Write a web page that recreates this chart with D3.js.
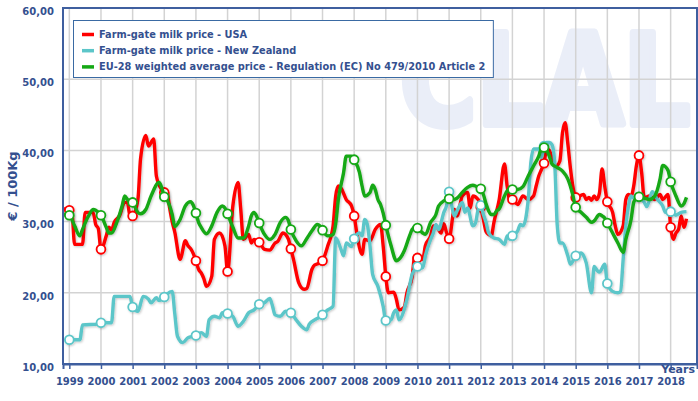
<!DOCTYPE html>
<html>
<head>
<meta charset="utf-8">
<script src="https://cdn.jsdelivr.net/npm/d3@7"></script>
<style>
  body { margin: 0; background: #fff; }
  text { font-family: "DejaVu Sans", Verdana, sans-serif; font-weight: bold; }
</style>
</head>
<body>
<div id="graphic"></div>
<script>
// farm-gate milk prices, €/100Kg, monthly readings

var years = [1999, 2000, 2001, 2002, 2003, 2004, 2005, 2006, 2007, 2008, 2009,
    2010, 2011, 2012, 2013, 2014, 2015, 2016, 2017, 2018];
var yTicks = [10, 20, 30, 40, 50, 60];

var seriesNames = [
    "Farm-gate milk price - USA",
    "Farm-gate milk price - New Zealand",
    "EU-28 weighted average price - Regulation (EC) No 479/2010 Article 2"
];

var usaDates = ["1998-11", "1999-01", "1999-02", "1999-03", "1999-06", "1999-07", "1999-10", "1999-11", "1999-12",
    "2000-01", "2000-03", "2000-04", "2000-05", "2000-06", "2000-08", "2000-10", "2000-11", "2000-12",
    "2001-01", "2001-03", "2001-04", "2001-06", "2001-07", "2001-09", "2001-10", "2001-12",
    "2002-01", "2002-02", "2002-03", "2002-04", "2002-05", "2002-07", "2002-09", "2002-10", "2002-11", "2002-12",
    "2003-01", "2003-02", "2003-03", "2003-04", "2003-05", "2003-07", "2003-08", "2003-10", "2003-12",
    "2004-01", "2004-03", "2004-05", "2004-06", "2004-07", "2004-09", "2004-10", "2004-11", "2004-12",
    "2005-01", "2005-03", "2005-05", "2005-07", "2005-08", "2005-10", "2005-12",
    "2006-01", "2006-02", "2006-04", "2006-06", "2006-07", "2006-09", "2006-10", "2006-12",
    "2007-01", "2007-03", "2007-05", "2007-06", "2007-07", "2007-08", "2007-10", "2007-12",
    "2008-01", "2008-02", "2008-04", "2008-05", "2008-07", "2008-09", "2008-11", "2008-12",
    "2009-01", "2009-02", "2009-04", "2009-05", "2009-06", "2009-08", "2009-09", "2009-11", "2009-12",
    "2010-01", "2010-03", "2010-04", "2010-06", "2010-07", "2010-08", "2010-10", "2010-11", "2010-12",
    "2011-01", "2011-03", "2011-04", "2011-06", "2011-08", "2011-09", "2011-10", "2011-12",
    "2012-01", "2012-02", "2012-03", "2012-04", "2012-05", "2012-06", "2012-08", "2012-10", "2012-11", "2012-12",
    "2013-01", "2013-03", "2013-05", "2013-07", "2013-09", "2013-10", "2013-11", "2013-12",
    "2014-01", "2014-02", "2014-03", "2014-04", "2014-05", "2014-06", "2014-07", "2014-08", "2014-09", "2014-10", "2014-11", "2014-12",
    "2015-01", "2015-04", "2015-05", "2015-06", "2015-07", "2015-08", "2015-09", "2015-10", "2015-11", "2015-12",
    "2016-01", "2016-03", "2016-04", "2016-05", "2016-07", "2016-08", "2016-09", "2016-10", "2016-11", "2016-12",
    "2017-01", "2017-02", "2017-03", "2017-05", "2017-07", "2017-09", "2017-10", "2017-12",
    "2018-01", "2018-02", "2018-03", "2018-04", "2018-05", "2018-06", "2018-07"];
var usaValues = [31.8, 31.6, 31.3, 26.8, 26.8, 31.3, 31.3, 29.6, 29.0,
    26.1, 28.0, 29.2, 28.8, 29.9, 30.8, 32.7, 32.7, 30.8,
    30.8, 33.1, 38.8, 42.1, 40.6, 41.6, 36.4, 34.5,
    34.1, 34.3, 32.0, 30.0, 28.5, 24.7, 27.3, 26.6, 26.2, 25.5,
    24.5, 23.3, 22.8, 22.0, 20.9, 22.3, 27.5, 28.4, 26.6,
    23.0, 32.2, 35.5, 31.7, 27.5, 28.2, 27.0, 27.5, 27.3,
    27.1, 26.1, 26.0, 27.0, 27.2, 28.4, 27.6,
    26.2, 24.7, 21.4, 20.5, 20.6, 23.3, 23.9, 24.2,
    24.5, 26.6, 29.4, 33.6, 35.0, 34.7, 33.1, 32.2,
    30.8, 28.4, 25.4, 27.5, 27.3, 28.9, 29.6, 26.6,
    22.3, 20.0, 20.1, 19.1, 17.6, 18.0, 20.0, 22.3, 25.2,
    24.9, 24.7, 26.6, 28.0, 29.4, 29.4, 28.4, 29.7, 28.5,
    27.6, 31.7, 30.8, 33.6, 34.1, 31.9, 33.6, 33.1,
    32.0, 30.3, 28.6, 28.2, 28.0, 29.9, 33.1, 38.1, 35.0, 33.1,
    33.1, 32.4, 33.6, 33.1, 33.6, 35.0, 36.4, 37.3,
    38.2, 40.2, 40.0, 39.0, 37.8, 37.9, 38.5, 42.5, 43.9, 41.0, 37.5, 34.8,
    33.4, 33.8, 33.1, 33.4, 33.0, 33.6, 33.1, 34.0, 37.4, 35.0,
    32.8, 31.3, 29.4, 28.2, 29.4, 33.1, 33.8, 33.6, 35.0, 37.8,
    39.3, 36.9, 33.3, 33.6, 33.1, 33.8, 33.1, 33.8,
    29.2, 27.5, 28.4, 28.9, 30.8, 29.2, 30.4];

var nzDates = ["1998-12", "1999-01", "1999-05", "1999-06", "1999-12",
    "2000-01", "2000-05", "2000-06", "2000-12",
    "2001-01", "2001-03", "2001-05", "2001-07", "2001-08", "2001-10", "2001-11", "2001-12",
    "2002-01", "2002-02", "2002-04", "2002-05", "2002-06", "2002-08", "2002-10", "2002-12",
    "2003-01", "2003-03", "2003-05", "2003-06", "2003-08", "2003-10", "2003-11", "2003-12",
    "2004-01", "2004-03", "2004-05", "2004-07", "2004-09", "2004-11", "2004-12",
    "2005-01", "2005-03", "2005-05", "2005-06", "2005-07", "2005-09", "2005-11", "2005-12",
    "2006-01", "2006-03", "2006-05", "2006-07", "2006-08", "2006-10", "2006-12",
    "2007-01", "2007-03", "2007-05", "2007-06", "2007-08", "2007-09", "2007-10", "2007-12",
    "2008-01", "2008-03", "2008-04", "2008-05", "2008-06", "2008-07", "2008-08", "2008-10", "2008-12",
    "2009-01", "2009-03", "2009-04", "2009-05", "2009-06", "2009-09", "2009-11", "2009-12",
    "2010-01", "2010-03", "2010-04", "2010-06", "2010-07", "2010-08", "2010-09", "2010-11", "2010-12",
    "2011-01", "2011-02", "2011-03", "2011-04", "2011-06", "2011-07", "2011-08", "2011-10", "2011-11", "2011-12",
    "2012-01", "2012-02", "2012-03", "2012-04", "2012-06", "2012-08", "2012-10", "2012-11", "2012-12",
    "2013-01", "2013-03", "2013-04", "2013-05", "2013-07", "2013-08", "2013-09", "2013-11", "2013-12",
    "2014-01", "2014-02", "2014-03", "2014-04", "2014-05", "2014-06", "2014-07", "2014-08", "2014-10", "2014-11", "2014-12",
    "2015-01", "2015-03", "2015-04", "2015-05", "2015-07", "2015-08", "2015-09", "2015-10", "2015-12",
    "2016-01", "2016-03", "2016-05", "2016-06", "2016-07", "2016-08", "2016-09", "2016-10", "2016-11", "2016-12",
    "2017-01", "2017-03", "2017-04", "2017-06", "2017-08", "2017-10", "2017-11", "2017-12",
    "2018-01", "2018-03", "2018-05", "2018-07"];
var nzValues = [13.4, 13.4, 13.4, 15.5, 15.6,
    15.8, 15.8, 19.5, 19.5,
    18.0, 17.4, 19.5, 19.1, 18.6, 19.3, 18.9, 19.1,
    19.4, 19.8, 20.2, 17.0, 13.9, 13.0, 13.7, 13.9,
    14.0, 14.4, 13.9, 16.2, 16.7, 16.5, 17.2, 17.0,
    17.1, 16.7, 15.3, 16.0, 17.2, 17.6, 18.0,
    18.4, 18.6, 19.2, 18.2, 16.9, 16.7, 17.4, 17.3,
    17.2, 16.2, 15.3, 14.8, 15.6, 16.2, 16.6,
    16.9, 17.6, 18.1, 27.7, 26.1, 25.2, 27.0, 26.5,
    27.6, 28.4, 28.0, 30.3, 29.6, 26.6, 22.6, 20.9, 18.1,
    16.1, 16.2, 17.2, 17.6, 16.2, 19.1, 22.6, 23.3,
    23.7, 23.5, 25.2, 27.5, 28.4, 29.6, 28.9, 31.3, 32.2,
    34.2, 32.2, 30.8, 31.5, 32.7, 31.3, 31.9, 29.4, 29.8, 31.7,
    32.3, 31.0, 29.9, 28.4, 27.7, 27.5, 26.8, 28.0, 27.5,
    28.0, 28.7, 29.6, 29.4, 33.1, 38.3, 40.2, 40.2, 39.0,
    40.6, 41.1, 41.1, 40.8, 38.5, 29.5, 27.0, 27.0, 25.2, 24.0, 24.5,
    25.2, 25.6, 25.2, 24.2, 20.0, 23.7, 23.2, 22.9, 24.0,
    21.3, 20.2, 20.0, 20.2, 24.7, 29.4, 32.2, 33.6, 33.3, 33.5,
    33.5, 32.7, 32.1, 34.2, 33.1, 32.2, 31.3, 31.5,
    31.4, 30.9, 31.3, 31.4];

var euDates = ["1998-11", "1999-01", "1999-03", "1999-05", "1999-06", "1999-08", "1999-10", "1999-11", "1999-12",
    "2000-01", "2000-03", "2000-04", "2000-05", "2000-07", "2000-09", "2000-10", "2000-11",
    "2001-01", "2001-03", "2001-04", "2001-06", "2001-08", "2001-11", "2001-12",
    "2002-01", "2002-02", "2002-04", "2002-05", "2002-07", "2002-09", "2002-11", "2002-12",
    "2003-01", "2003-02", "2003-03", "2003-05", "2003-07", "2003-09", "2003-11", "2003-12",
    "2004-01", "2004-03", "2004-05", "2004-07", "2004-09", "2004-10", "2004-11", "2004-12",
    "2005-01", "2005-03", "2005-05", "2005-07", "2005-09", "2005-11", "2005-12",
    "2006-01", "2006-03", "2006-05", "2006-07", "2006-09", "2006-11", "2006-12",
    "2007-01", "2007-03", "2007-05", "2007-06", "2007-07", "2007-09", "2007-10", "2007-12",
    "2008-01", "2008-03", "2008-04", "2008-05", "2008-07", "2008-08", "2008-09", "2008-10", "2008-11", "2008-12",
    "2009-01", "2009-03", "2009-05", "2009-06", "2009-08", "2009-10", "2009-11", "2009-12",
    "2010-01", "2010-03", "2010-04", "2010-06", "2010-08", "2010-09", "2010-11", "2010-12",
    "2011-01", "2011-03", "2011-04", "2011-06", "2011-08", "2011-10", "2011-11", "2011-12",
    "2012-01", "2012-02", "2012-03", "2012-04", "2012-05", "2012-06", "2012-07", "2012-08", "2012-10", "2012-11", "2012-12",
    "2013-01", "2013-03", "2013-05", "2013-07", "2013-09", "2013-11", "2013-12",
    "2014-01", "2014-03", "2014-04", "2014-06", "2014-08", "2014-10", "2014-12",
    "2015-01", "2015-03", "2015-05", "2015-07", "2015-08", "2015-10", "2015-11", "2015-12",
    "2016-01", "2016-03", "2016-05", "2016-07", "2016-08", "2016-10", "2016-11", "2016-12",
    "2017-01", "2017-03", "2017-05", "2017-07", "2017-09", "2017-10", "2017-12",
    "2018-01", "2018-03", "2018-05", "2018-06", "2018-07"];
var euValues = [31.0, 30.9, 29.4, 28.0, 28.9, 30.6, 31.7, 31.6, 31.3,
    30.9, 29.2, 28.4, 28.4, 29.9, 32.2, 33.6, 33.1,
    32.7, 31.3, 31.1, 31.7, 33.6, 35.5, 34.8,
    33.5, 33.1, 31.0, 29.3, 30.3, 32.2, 32.8, 32.3,
    31.2, 29.9, 29.2, 28.3, 29.4, 31.3, 32.2, 31.9,
    31.1, 29.2, 27.7, 27.7, 29.4, 30.8, 31.3, 30.8,
    29.8, 28.2, 27.5, 28.2, 29.9, 30.6, 30.2,
    28.9, 27.3, 26.6, 27.6, 28.7, 29.6, 29.4,
    28.8, 28.0, 28.2, 29.7, 33.1, 36.9, 39.2, 39.2,
    38.7, 36.9, 35.0, 33.6, 34.1, 35.1, 34.5, 33.1, 32.4, 31.2,
    29.5, 26.6, 24.5, 24.7, 25.9, 28.0, 28.9, 29.2,
    29.1, 28.4, 28.2, 29.9, 31.0, 32.2, 32.9, 33.1,
    33.2, 33.1, 33.3, 34.1, 34.8, 35.1, 35.0, 34.8,
    34.6, 33.8, 32.5, 31.5, 31.0, 31.0, 31.5, 31.8, 33.6, 34.3, 34.5,
    34.5, 34.5, 34.9, 36.4, 37.8, 39.2, 40.2,
    40.4, 39.2, 38.1, 37.6, 37.1, 36.0, 33.6,
    32.0, 31.3, 30.6, 29.9, 30.1, 31.0, 30.8, 30.5,
    29.8, 28.4, 27.0, 25.7, 27.5, 30.3, 32.7, 33.3,
    33.5, 33.3, 33.1, 33.6, 36.0, 37.9, 37.2,
    35.6, 33.6, 32.2, 32.5, 33.4];

var colors = ["#ff0000", "#5cc6c9", "#14a814"];
var ink = "#34508f";

var width = 698, height = 401;
var plot = { left: 63, top: 8, right: 697, bottom: 364 };

function toYear(s) {
    var p = s.split("-");
    return +p[0] + (+p[1] - 1) / 12;
}

function makeSeries(dates, values) {
    return dates.map(function (d, i) {
        return { t: toYear(d), month: d.slice(5), v: values[i] };
    });
}

var series = [
    makeSeries(usaDates, usaValues),
    makeSeries(nzDates, nzValues),
    makeSeries(euDates, euValues)
];

var x = d3.scaleLinear().domain([1998.8, 2018.833]).range([plot.left, plot.right]);
var y = d3.scaleLinear().domain([10, 60]).range([plot.bottom, plot.top]);

var svg = d3.select("#graphic").append("svg")
    .attr("width", width)
    .attr("height", height);

var defs = svg.append("defs");
var shadow = defs.append("filter").attr("id", "shadow")
    .attr("x", "-5%").attr("y", "-5%").attr("width", "110%").attr("height", "110%");
shadow.append("feDropShadow")
    .attr("dx", 1).attr("dy", 1).attr("stdDeviation", 1)
    .attr("flood-color", "#000").attr("flood-opacity", 0.22);

// watermark logo, squeezed horizontally
svg.append("text")
    .attr("transform", "translate(400,124) scale(0.84,1)")
    .style("font-size", "124px")
    .attr("fill", "#eaeef8")
    .attr("stroke", "#eaeef8")
    .attr("stroke-width", 8)
    .attr("stroke-linejoin", "round")
    .text("CLAL");

// grid
svg.append("g")
    .selectAll("line")
    .data(years)
    .enter().append("line")
    .attr("x1", function (d) { return x(d); })
    .attr("x2", function (d) { return x(d); })
    .attr("y1", plot.top)
    .attr("y2", plot.bottom)
    .attr("stroke", "#d3d3d3")
    .attr("stroke-width", 1.5);

svg.append("g")
    .selectAll("line")
    .data(yTicks.slice(1, -1))
    .enter().append("line")
    .attr("x1", plot.left)
    .attr("x2", plot.right)
    .attr("y1", function (d) { return y(d); })
    .attr("y2", function (d) { return y(d); })
    .attr("stroke", "#d3d3d3")
    .attr("stroke-width", 1.5);

// frame
svg.append("rect")
    .attr("x", plot.left).attr("y", plot.top)
    .attr("width", plot.right - plot.left)
    .attr("height", plot.bottom - plot.top)
    .attr("fill", "none")
    .attr("stroke", "#3f5f9f")
    .attr("stroke-width", 2);

// x axis
var xAxis = d3.axisBottom(x)
    .tickValues(years)
    .tickFormat(d3.format("d"))
    .tickSize(5)
    .tickPadding(9);

var gx = svg.append("g")
    .attr("transform", "translate(0," + plot.bottom + ")")
    .call(xAxis);
gx.select(".domain").attr("stroke", "#3f5f9f").attr("stroke-width", 2);
gx.selectAll(".tick line").attr("stroke", "#3f5f9f").attr("stroke-width", 1.5);
gx.selectAll(".tick text")
    .attr("fill", ink)
    .style("font-size", "10px")
    .style("font-family", "DejaVu Sans")
    .style("font-weight", "bold");

// y axis
var yAxis = d3.axisLeft(y)
    .tickValues(yTicks)
    .tickFormat(function (d) { return d3.format(".2f")(d).replace(".", ","); })
    .tickSize(0)
    .tickPadding(9);

var gy = svg.append("g")
    .attr("transform", "translate(" + plot.left + ",0)")
    .call(yAxis);
gy.select(".domain").remove();
gy.selectAll(".tick text")
    .attr("fill", ink)
    .attr("dy", "0.62em")
    .style("font-size", "10px")
    .style("font-family", "DejaVu Sans")
    .style("font-weight", "bold");

svg.append("text")
    .attr("transform", "translate(17," + ((plot.top + plot.bottom) / 2) + ") rotate(-90)")
    .attr("text-anchor", "middle")
    .attr("fill", ink)
    .style("font-size", "13px")
    .text("€ / 100Kg");

svg.append("text")
    .attr("x", 695).attr("y", 373)
    .attr("text-anchor", "end")
    .attr("fill", ink)
    .style("font-size", "11px")
    .text("Years");

// lines
var line = d3.line()
    .x(function (d) { return x(d.t); })
    .y(function (d) { return y(d.v); })
    .curve(d3.curveMonotoneX);

series.forEach(function (s, i) {
    var g = svg.append("g").attr("filter", "url(#shadow)");
    g.append("path")
        .datum(s)
        .attr("d", line)
        .attr("fill", "none")
        .attr("stroke", colors[i])
        .attr("stroke-width", 3.4)
        .attr("stroke-linejoin", "round");
    g.selectAll("circle")
        .data(s.filter(function (d) { return d.month === "01"; }))
        .enter().append("circle")
        .attr("cx", function (d) { return x(d.t); })
        .attr("cy", function (d) { return y(d.v); })
        .attr("r", 4.4)
        .attr("fill", "#fff")
        .attr("stroke", colors[i])
        .attr("stroke-width", 1.8);
});

// legend
var legend = svg.append("g");
var box = legend.append("rect")
    .attr("x", 73.5).attr("y", 20.5)
    .attr("height", 57)
    .attr("fill", "#fff")
    .attr("stroke", "#3a6aa3")
    .attr("stroke-width", 1);

var maxW = 0;
seriesNames.forEach(function (name, i) {
    var cy = 34.5 + i * 16.2;
    legend.append("line")
        .attr("x1", 82).attr("x2", 94)
        .attr("y1", cy).attr("y2", cy)
        .attr("stroke", colors[i])
        .attr("stroke-width", 3.5);
    var t = legend.append("text")
        .attr("x", 99).attr("y", cy + 3.5)
        .attr("fill", ink)
        .style("font-size", "9.8px")
        .text(name);
    maxW = Math.max(maxW, t.node().getComputedTextLength());
});
box.attr("width", 99 + maxW + 8 - 73.5);
</script>
</body>
</html>
